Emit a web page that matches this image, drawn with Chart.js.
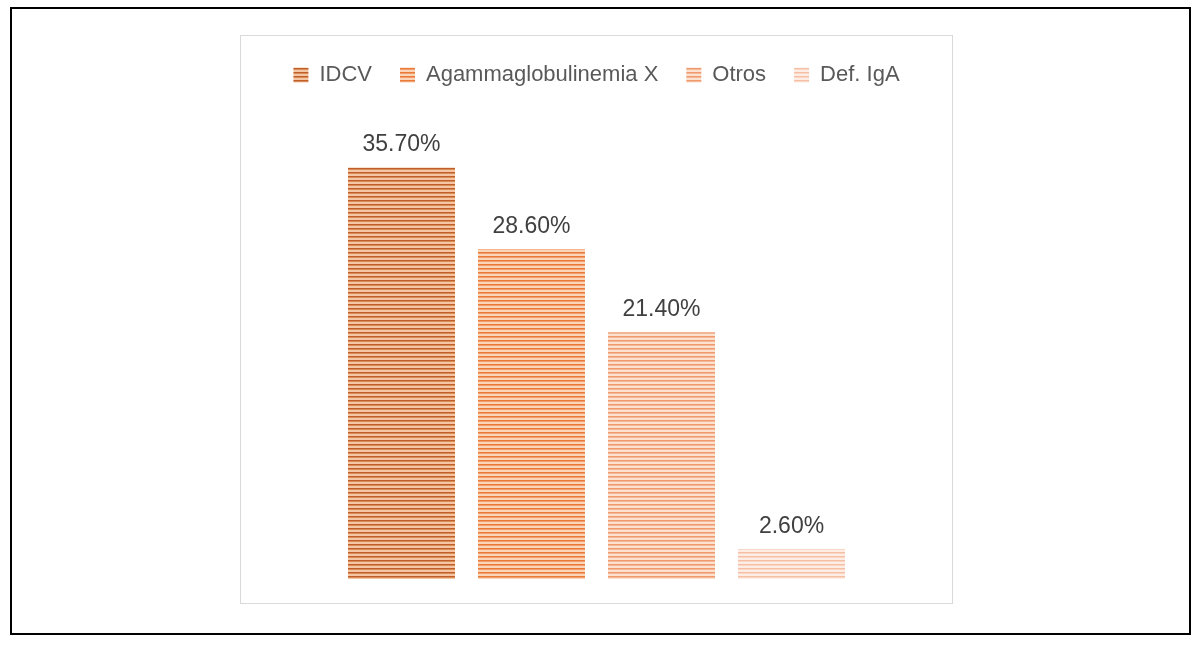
<!DOCTYPE html>
<html>
<head>
<meta charset="utf-8">
<script src="https://cdn.jsdelivr.net/npm/chart.js@4.4.1/dist/chart.umd.min.js"></script>
<style>
  body { margin: 0; background: #fff; width: 1200px; height: 646px; position: relative; overflow: hidden; }
  #frame { position: absolute; left: 10px; top: 7px; width: 1177px; height: 624px; border: 2px solid #000; }
  #box { position: absolute; left: 240px; top: 35px; width: 711px; height: 567px; border: 1px solid #d9d9d9; }
  #chart { position: absolute; left: 0; top: 0; }
</style>
</head>
<body>
<div id="frame"></div>
<div id="box"><canvas id="chart" width="711" height="567"></canvas></div>
<script>
// Series (one category, one dataset per diagnosis)
const seriesNames = ['IDCV', 'Agammaglobulinemia X', 'Otros', 'Def. IgA'];
const seriesValues = [35.7, 28.6, 21.4, 2.6];
const darkColors = ['#BF5F27', '#EA7A38', '#EE9A6E', '#F5BFA3'];
const midColors = ['#D98B5C', '#F29E6C', '#F4B894', '#F9D6C5'];
const lightColors = ['#F5C6A3', '#FAD5BA', '#FCE0D0', '#FDEDE5'];

// Horizontal stripe fill like the original
function stripes(dark, mid, light) {
    const c = document.createElement('canvas');
    c.width = 4;
    c.height = 4;
    const g = c.getContext('2d');
    g.fillStyle = light;
    g.fillRect(0, 0, 4, 4);
    g.fillStyle = dark;
    g.fillRect(0, 0, 4, 1);
    g.fillStyle = mid;
    g.fillRect(0, 1, 4, 1);
    return g.createPattern(c, 'repeat');
}

const ctx = document.getElementById('chart').getContext('2d');

const datasets = seriesNames.map((name, i) => ({
    label: name,
    data: [seriesValues[i]],
    backgroundColor: stripes(darkColors[i], midColors[i], lightColors[i]),
    borderWidth: 0
}));

// Value labels on top of bars
const valueLabels = {
    id: 'valueLabels',
    afterDatasetsDraw(chart) {
        const c = chart.ctx;
        c.save();
        c.font = '23px "Liberation Sans", Arial, sans-serif';
        c.fillStyle = '#404040';
        c.textAlign = 'center';
        c.textBaseline = 'alphabetic';
        chart.data.datasets.forEach((ds, i) => {
            const bar = chart.getDatasetMeta(i).data[0];
            c.fillText(ds.data[0].toFixed(2) + '%', bar.x, bar.y - 16);
        });
        c.restore();
    }
};

new Chart(ctx, {
    type: 'bar',
    data: { labels: [''], datasets: datasets },
    options: {
        responsive: false,
        animation: false,
        devicePixelRatio: 1,
        layout: { padding: { top: 0, bottom: 24, left: 0, right: 0 } },
        datasets: { bar: { categoryPercentage: 0.7314, barPercentage: 0.823 } },
        plugins: {
            legend: {
                position: 'top',
                labels: {
                    font: { size: 22, family: '"Liberation Sans", Arial, sans-serif' },
                    color: '#595959',
                    boxWidth: 15,
                    boxHeight: 15,
                    padding: 28
                }
            },
            tooltip: { enabled: false }
        },
        scales: {
            x: { display: false },
            y: { display: false, min: 0, max: 41.9 }
        }
    },
    plugins: [valueLabels]
});
</script>
</body>
</html>
